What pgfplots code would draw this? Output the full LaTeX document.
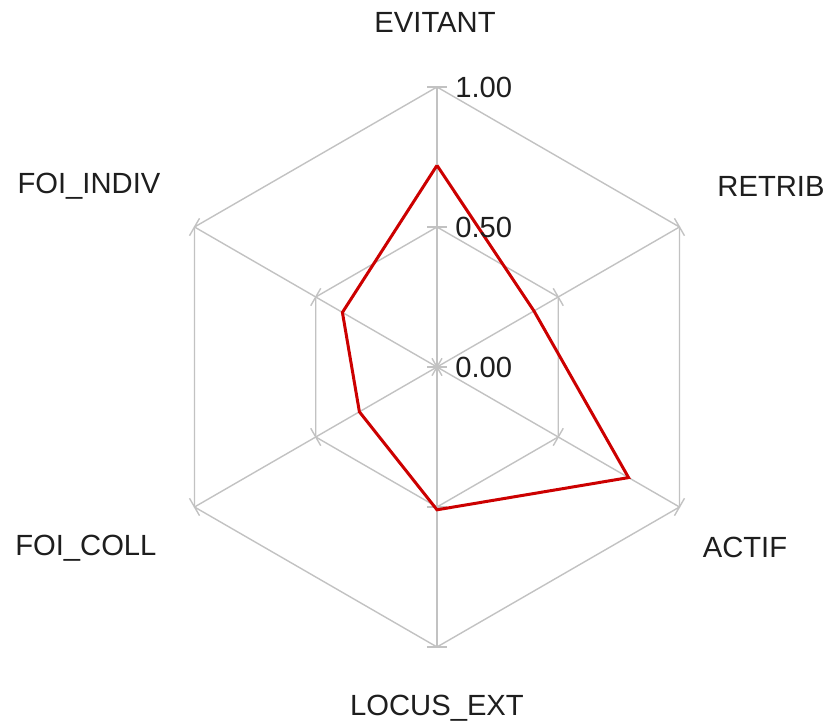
\documentclass[border=0pt]{standalone}
\usepackage{pgfplots}
\pgfplotsset{compat=1.18}
\usepackage{fontspec}
\setmainfont{Liberation Sans}
\definecolor{gridc}{HTML}{C2C2C2}
\definecolor{serc}{HTML}{CC0000}
\definecolor{txt}{HTML}{1E1E1E}
\tikzset{
  gridln/.style={draw=gridc, line width=0.7pt},
  lab/.style={font=\fontsize{14.6}{17}\selectfont, text=txt, inner sep=0pt},
}
\begin{document}
\begin{tikzpicture}
\begin{axis}[
  x=140pt, y=140pt,
  xmin=-1.5607, xmax=1.3929,
  ymin=-1.2786, ymax=1.3107,
  hide axis, clip=false,
  every axis plot/.append style={data cs=polar, mark=none},
]
\coordinate (sw) at (rel axis cs:0,0);
\coordinate (ne) at (rel axis cs:1,1);
% spokes
\addplot[gridln] coordinates {(90,0) (90,1)};
\addplot[gridln] coordinates {(30,0) (30,1)};
\addplot[gridln] coordinates {(-30,0) (-30,1)};
\addplot[gridln] coordinates {(-90,0) (-90,1)};
\addplot[gridln] coordinates {(-150,0) (-150,1)};
\addplot[gridln] coordinates {(150,0) (150,1)};
% hexagons
\addplot[gridln] coordinates {(90,1) (30,1) (-30,1) (-90,1) (-150,1) (150,1) (90,1)};
\addplot[gridln] coordinates {(90,0.5) (30,0.5) (-30,0.5) (-90,0.5) (-150,0.5) (150,0.5) (90,0.5)};
% ticks at r = 1
\addplot[gridln] coordinates {(87.955,1.0006) (92.045,1.0006)};
\addplot[gridln] coordinates {(27.955,1.0006) (32.045,1.0006)};
\addplot[gridln] coordinates {(-32.045,1.0006) (-27.955,1.0006)};
\addplot[gridln] coordinates {(-92.045,1.0006) (-87.955,1.0006)};
\addplot[gridln] coordinates {(-152.045,1.0006) (-147.955,1.0006)};
\addplot[gridln] coordinates {(147.955,1.0006) (152.045,1.0006)};
% ticks at r = 0.5
\addplot[gridln] coordinates {(85.914,0.5013) (94.086,0.5013)};
\addplot[gridln] coordinates {(25.914,0.5013) (34.086,0.5013)};
\addplot[gridln] coordinates {(-34.086,0.5013) (-25.914,0.5013)};
\addplot[gridln] coordinates {(-94.086,0.5013) (-85.914,0.5013)};
\addplot[gridln] coordinates {(-154.086,0.5013) (-145.914,0.5013)};
\addplot[gridln] coordinates {(145.914,0.5013) (154.086,0.5013)};
% ticks at centre
\addplot[gridln] coordinates {(0,0.0357) (180,0.0357)};
\addplot[gridln] coordinates {(120,0.0357) (-60,0.0357)};
\addplot[gridln] coordinates {(60,0.0357) (-120,0.0357)};
% data: EVITANT, RETRIB, ACTIF, LOCUS_EXT, FOI_COLL, FOI_INDIV
\addplot[serc, line width=1.5pt, line join=miter] coordinates {
  (90,0.72) (30,0.40) (-30,0.79) (-90,0.51) (-150,0.32) (150,0.39) (90,0.72)};
% radial value labels
\node[lab, anchor=west] at (axis cs:0.064,1.0) {1.00};
\node[lab, anchor=west] at (axis cs:0.064,0.5) {0.50};
\node[lab, anchor=west] at (axis cs:0.064,0.0) {0.00};
% category labels
\node[lab] at (axis cs:-0.007,1.232) {EVITANT};
\node[lab] at (axis cs:1.193,0.646) {RETRIB};
\node[lab] at (axis cs:1.100,-0.646) {ACTIF};
\node[lab] at (axis cs:0.000,-1.218) {LOCUS\_EXT};
\node[lab] at (axis cs:-1.254,-0.646) {FOI\_COLL};
\node[lab] at (axis cs:-1.243,0.646) {FOI\_INDIV};
\end{axis}
\pgfresetboundingbox
\path (sw) rectangle (ne);
\end{tikzpicture}
\end{document}
